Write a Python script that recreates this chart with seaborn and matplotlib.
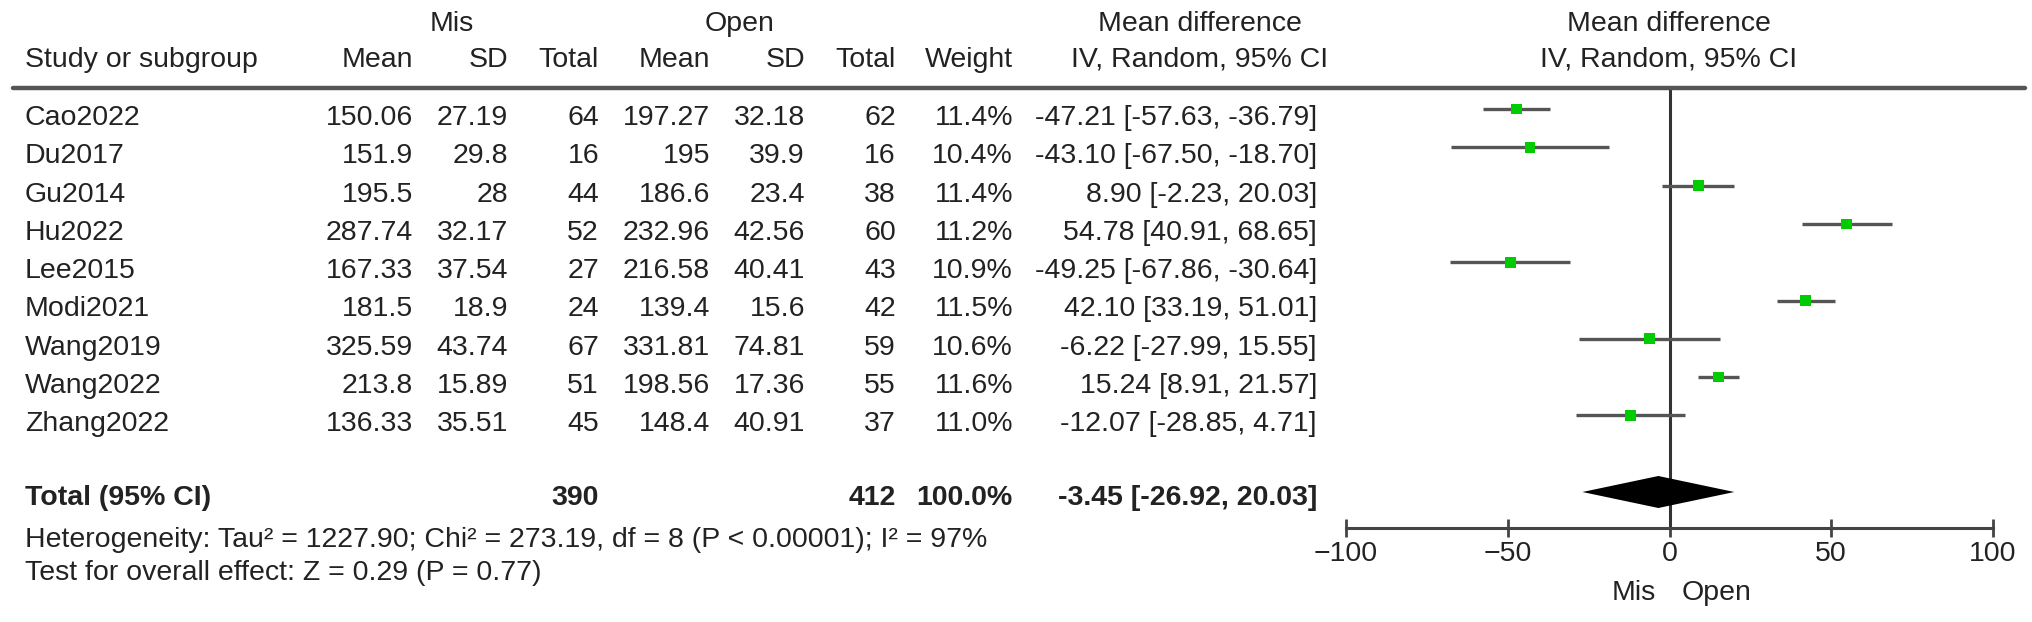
import numpy as np
import pandas as pd
import matplotlib
matplotlib.use("Agg")
import matplotlib.pyplot as plt
from matplotlib.lines import Line2D
import seaborn as sns

# ---------------- data ----------------
studies = ["Cao2022", "Du2017", "Gu2014", "Hu2022", "Lee2015", "Modi2021",
           "Wang2019", "Wang2022", "Zhang2022"]
mis_mean = ["150.06", "151.9", "195.5", "287.74", "167.33", "181.5", "325.59", "213.8", "136.33"]
mis_sd = ["27.19", "29.8", "28", "32.17", "37.54", "18.9", "43.74", "15.89", "35.51"]
mis_total = [64, 16, 44, 52, 27, 24, 67, 51, 45]
open_mean = ["197.27", "195", "186.6", "232.96", "216.58", "139.4", "331.81", "198.56", "148.4"]
open_sd = ["32.18", "39.9", "23.4", "42.56", "40.41", "15.6", "74.81", "17.36", "40.91"]
open_total = [62, 16, 38, 60, 43, 42, 59, 55, 37]
weights = [11.4, 10.4, 11.4, 11.2, 10.9, 11.5, 10.6, 11.6, 11.0]
md = [-47.21, -43.10, 8.90, 54.78, -49.25, 42.10, -6.22, 15.24, -12.07]
ci_low = [-57.63, -67.50, -2.23, 40.91, -67.86, 33.19, -27.99, 8.91, -28.85]
ci_high = [-36.79, -18.70, 20.03, 68.65, -30.64, 51.01, 15.55, 21.57, 4.71]

total_mis = 390
total_open = 412
total_weight = 100.0
total_md = -3.45
total_low = -26.92
total_high = 20.03
heterogeneity = "Heterogeneity: Tau² = 1227.90; Chi² = 273.19, df = 8 (P < 0.00001); I² = 97%"
overall = "Test for overall effect: Z = 0.29 (P = 0.77)"
xticks = [-100, -50, 0, 50, 100]
favours = ["Mis", "Open"]

# ---------------- figure ----------------
sns.set_theme(style="white")
plt.rcParams["font.family"] = ["Liberation Sans", "DejaVu Sans"]
W, H = 2032, 622
fig = plt.figure(figsize=(W / 100, H / 100), dpi=100)
TXT = "#222222"
FS = 20.5


def px(x, y):
    return x / W, 1 - y / H


def ftext(x, y, s, ha="left", bold=False, fs=FS):
    fig.text(*px(x, y), s, ha=ha, va="center", fontsize=fs, color=TXT,
             fontweight="bold" if bold else "normal")


# headers
ftext(452, 24, "Mis", ha="center")
ftext(740, 24, "Open", ha="center")
ftext(1200, 24, "Mean difference", ha="center")
ftext(1669, 24, "Mean difference", ha="center")
ftext(25, 60, "Study or subgroup")
for s, x in [("Mean", 413), ("SD", 508), ("Total", 599), ("Mean", 710),
             ("SD", 805), ("Total", 896), ("Weight", 1013)]:
    ftext(x, 60, s, ha="right")
ftext(1200, 60, "IV, Random, 95% CI", ha="center")
ftext(1669, 60, "IV, Random, 95% CI", ha="center")

# header rule
fig.add_artist(Line2D([13 / W, 2025 / W], [1 - 88 / H, 1 - 88 / H],
                      color="#555555", lw=3.2, transform=fig.transFigure))

# study rows
row_h = 38.3
for i, st in enumerate(studies):
    y = 118 + row_h * i
    ftext(25, y, st)
    ftext(413, y, mis_mean[i], ha="right")
    ftext(508, y, mis_sd[i], ha="right")
    ftext(599, y, str(mis_total[i]), ha="right")
    ftext(710, y, open_mean[i], ha="right")
    ftext(805, y, open_sd[i], ha="right")
    ftext(896, y, str(open_total[i]), ha="right")
    ftext(1013, y, f"{weights[i]:.1f}%", ha="right")
    ftext(1317, y, f"{md[i]:.2f} [{ci_low[i]:.2f}, {ci_high[i]:.2f}]", ha="right")

# total row
ftext(25, 498, "Total (95% CI)", bold=True)
ftext(599, 498, str(total_mis), ha="right", bold=True)
ftext(896, 498, str(total_open), ha="right", bold=True)
ftext(1013, 498, f"{total_weight:.1f}%", ha="right", bold=True)
ftext(1317, 498, f"{total_md:.2f} [{total_low:.2f}, {total_high:.2f}]", ha="right", bold=True)
ftext(25, 540, heterogeneity)
ftext(25, 573, overall)

# ---------------- forest axes ----------------
x0, x1 = 1346, 1993
ytop, ybot = 88, 528
ax = fig.add_axes([x0 / W, 1 - ybot / H, (x1 - x0) / W, (ybot - ytop) / H])
ax.set_xlim(xticks[0], xticks[-1])
row0 = 109
ax.set_ylim((ybot - row0) / row_h, (ytop - row0) / row_h)
ax.set_facecolor("none")
for sp in ["top", "left", "right"]:
    ax.spines[sp].set_visible(False)
ax.spines["bottom"].set_color("#444444")
ax.spines["bottom"].set_linewidth(2.2)
ax.set_xticks(xticks)
ax.set_xticklabels([f"{t}" if t >= 0 else f"\u2212{abs(t)}" for t in xticks])
ax.tick_params(axis="x", direction="inout", length=13, width=2.0, color="#444444",
               labelsize=FS, labelcolor=TXT, pad=3, bottom=True)
ax.set_yticks([])
ax.set_xlabel("")
ax.set_ylabel("")

# null line
ax.axvline(0, color="#333333", lw=2.2, zorder=1)

df = pd.DataFrame({"study": studies, "md": md, "lo": ci_low, "hi": ci_high,
                   "row": np.arange(len(studies))})
ax.hlines(df["row"], df["lo"], df["hi"], color="#555555", lw=2.4, zorder=2)
sns.scatterplot(data=df, x="md", y="row", marker="s", s=60, color="#00cc00",
                edgecolor="none", ax=ax, zorder=3, legend=False)
ax.set_xlabel("")
ax.set_ylabel("")

# pooled diamond
ty = len(studies) + 1
dh = 16 / row_h
ax.fill([total_low, total_md, total_high, total_md],
        [ty, ty - dh, ty, ty + dh], color="black", zorder=4, lw=0)

# favours labels
ftext(1634, 593, favours[0], ha="center")
ftext(1717, 593, favours[1], ha="center")

fig.savefig("out.png", dpi=100)
